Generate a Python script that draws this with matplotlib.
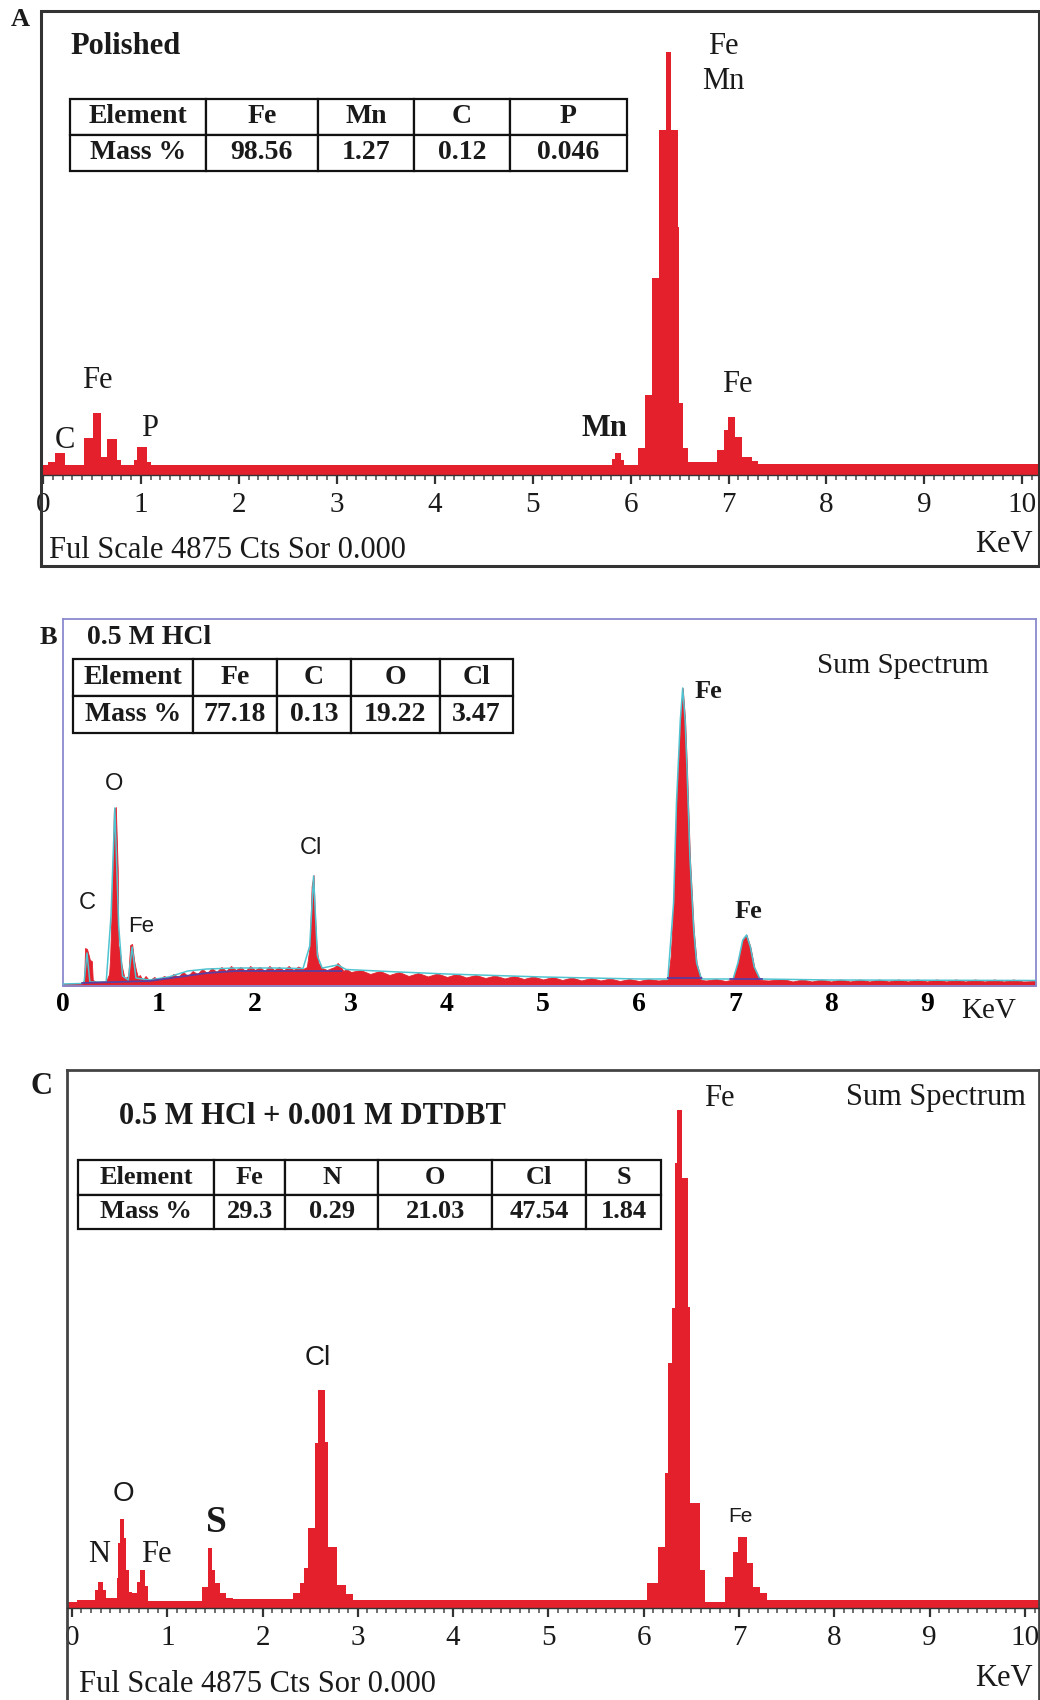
import numpy as np
import matplotlib
matplotlib.use('Agg')
import matplotlib.pyplot as plt
from matplotlib.patches import Rectangle

plt.rcParams['font.family'] = ['Liberation Serif', 'DejaVu Serif']

RED = '#E3202B'
INK = '#1a1a1a'
SERIF = 'Liberation Serif'
SANS = 'Liberation Sans'

# ---------------- Panel A : Polished ----------------
A_edges = [-0.02, 0.05, 0.12, 0.22, 0.42, 0.51, 0.59, 0.65, 0.76, 0.80, 0.93, 0.96,
           1.06, 1.10, 5.81, 5.84, 5.90, 5.93, 6.08, 6.15, 6.22, 6.29, 6.36, 6.41,
           6.48, 6.49, 6.54, 6.59, 6.88, 6.95, 6.99, 7.07, 7.14, 7.24, 7.30, 10.17]
A_counts = [100, 130, 220, 100, 370, 620, 180, 360, 150, 100, 150, 280, 130, 100,
            160, 220, 150, 100, 270, 800, 1970, 3450, 4230, 3450, 2480, 720, 270,
            130, 250, 450, 580, 380, 180, 140, 110]
A_elements = ['Element', 'Fe', 'Mn', 'C', 'P']
A_mass = ['Mass %', '98.56', '1.27', '0.12', '0.046']

# ---------------- Panel B : 0.5 M HCl ----------------
B_keV = [0.00, 0.15, 0.20, 0.22, 0.23, 0.25, 0.27, 0.28, 0.30, 0.31, 0.35, 0.40, 0.45,
         0.48, 0.49, 0.51, 0.53, 0.55, 0.57, 0.575, 0.59, 0.61, 0.64, 0.67, 0.68, 0.70,
         0.72, 0.74, 0.76, 0.78, 0.80, 0.83, 0.86, 0.90, 0.95, 1.00, 1.05, 1.10, 1.15,
         1.20, 1.25, 1.30, 1.35, 1.40, 1.45, 1.50, 1.55, 1.60, 1.65, 1.70, 1.75, 1.80,
         1.85, 1.90, 1.95, 2.00, 2.05, 2.10, 2.15, 2.20, 2.25, 2.30, 2.35, 2.40, 2.45,
         2.50, 2.54, 2.57, 2.59, 2.61, 2.62, 2.64, 2.66, 2.70, 2.75, 2.80, 2.83, 2.86,
         2.89, 2.92, 2.95, 3.00, 3.10, 3.20, 3.30, 3.40, 3.50, 3.60, 3.70, 3.80, 3.90,
         4.00, 4.10, 4.20, 4.30, 4.40, 4.50, 4.60, 4.70, 4.80, 4.90, 5.00, 5.10, 5.20,
         5.30, 5.40, 5.50, 5.60, 5.70, 5.80, 5.90, 6.00, 6.10, 6.20, 6.30, 6.33, 6.36,
         6.39, 6.43, 6.455, 6.48, 6.50, 6.53, 6.57, 6.60, 6.65, 6.70, 6.80, 6.90, 6.98,
         7.03, 7.08, 7.12, 7.16, 7.20, 7.26, 7.35, 7.50, 7.60, 7.70, 7.80, 7.90, 8.00,
         8.10, 8.20, 8.30, 8.40, 8.50, 8.60, 8.70, 8.80, 8.90, 9.00, 9.10, 9.20, 9.30,
         9.40, 9.50, 9.60, 9.70, 9.80, 9.90, 10.00, 10.13]
B_cnt = [20, 25, 30, 60, 380, 370, 300, 260, 250, 60, 40, 45, 50,
         120, 260, 860, 1760, 1790, 1160, 410, 360, 210, 80, 90, 110, 410,
         420, 260, 160, 90, 110, 60, 100, 55, 90, 60, 100, 80, 120,
         90, 140, 100, 150, 120, 170, 130, 180, 140, 190, 150, 200, 160,
         190, 150, 200, 160, 190, 150, 200, 160, 190, 155, 200, 160, 195,
         170, 190, 400, 1000, 1110, 800, 420, 230, 180, 160, 180, 190, 230,
         200, 150, 170, 140, 160, 120, 150, 110, 140, 100, 130, 95, 125,
         90, 120, 85, 110, 80, 105, 75, 100, 70, 95, 65, 90, 60,
         85, 55, 80, 55, 75, 50, 70, 50, 70, 55, 65, 300, 830,
         1830, 2660, 2980, 2660, 2160, 1290, 560, 230, 60, 55, 70, 50, 65,
         230, 460, 510, 390, 190, 60, 55, 70, 45, 65, 45, 65, 45,
         65, 45, 65, 45, 65, 45, 65, 45, 65, 45, 65, 45, 65,
         45, 65, 45, 65, 45, 65, 45, 50]
B_fit_keV = [0.0, 0.2, 0.22, 0.25, 0.28, 0.45, 0.50, 0.54, 0.58, 0.62, 0.68, 0.72, 0.76,
             0.9, 1.1, 1.3, 1.5, 1.8, 2.2, 2.5, 2.57, 2.61, 2.65, 2.7, 2.86, 2.95, 3.5,
             4.0, 5.0, 6.0, 6.3, 6.36, 6.39, 6.43, 6.455, 6.48, 6.50, 6.53, 6.57, 6.60,
             6.65, 6.98, 7.03, 7.08, 7.12, 7.16, 7.20, 7.26, 8.0, 10.13]
B_fit_cnt = [20, 25, 40, 330, 40, 40, 700, 1780, 600, 100, 60, 390, 80,
             60, 90, 150, 170, 180, 180, 175, 400, 1100, 300, 180, 210, 165, 140,
             120, 90, 70, 70, 830, 1830, 2660, 2980, 2660, 2160, 1290, 560, 230,
             70, 70, 230, 460, 510, 390, 190, 70, 60, 55]
B_bg_keV = [0.2, 0.9, 1.2, 1.5, 1.8, 2.5, 2.6, 2.9, np.nan, 6.3, 6.65, np.nan, 6.95, 7.28]
B_bg_cnt = [30, 50, 90, 130, 150, 150, 150, 150, np.nan, 80, 80, np.nan, 70, 70]
B_elements = ['Element', 'Fe', 'C', 'O', 'Cl']
B_mass = ['Mass %', '77.18', '0.13', '19.22', '3.47']

# ---------------- Panel C : 0.5 M HCl + 0.001 M DTDBT ----------------
C_edges = [-0.05, 0.05, 0.24, 0.27, 0.33, 0.36, 0.47, 0.48, 0.50, 0.55, 0.57, 0.60,
           0.63, 0.68, 0.71, 0.77, 0.80, 1.36, 1.43, 1.47, 1.50, 1.55, 1.62, 1.69,
           2.32, 2.39, 2.44, 2.48, 2.55, 2.58, 2.65, 2.69, 2.78, 2.88, 2.95, 6.03,
           6.15, 6.22, 6.25, 6.30, 6.33, 6.35, 6.40, 6.46, 6.48, 6.59, 6.64, 6.85,
           6.94, 6.99, 7.08, 7.15, 7.22, 7.29, 10.15]
C_counts = [60, 80, 180, 260, 180, 100, 300, 650, 890, 700, 380, 160, 150, 260, 380,
            220, 70, 210, 600, 380, 250, 150, 100, 90, 150, 250, 400, 800, 1650, 2180,
            1660, 610, 230, 140, 80, 250, 610, 1350, 2450, 3000, 4450, 4980, 4300,
            3010, 1050, 380, 60, 310, 560, 710, 450, 210, 150, 80]
C_elements = ['Element', 'Fe', 'N', 'O', 'Cl', 'S']
C_mass = ['Mass %', '29.3', '0.29', '21.03', '47.54', '1.84']

KEV_TICKS = list(range(0, 11))

W, H = 1040, 1700
fig = plt.figure(figsize=(W / 100, H / 100), dpi=100)


def box(x0, y0, x1, y1):
    return [x0 / W, 1 - y1 / H, (x1 - x0) / W, (y1 - y0) / H]


def draw_table(ax, header, row, bbox, colw, size):
    tb = ax.table(cellText=[header, row], cellLoc='center', bbox=bbox, colWidths=colw)
    tb.auto_set_font_size(False)
    for (r, c), cell in tb.get_celld().items():
        cell.set_linewidth(1.6)
        cell.set_edgecolor('#111111')
        cell.set_facecolor('white')
        t = cell.get_text()
        t.set_fontsize(size)
        t.set_fontweight('bold')
        t.set_fontfamily(SERIF)
        t.set_color(INK)
    tb.set_zorder(6)
    return tb


def keV_axis(ax, labelsize=21):
    ax.spines['bottom'].set_position(('data', 0))
    ax.spines['bottom'].set_color('#333333')
    ax.spines['bottom'].set_linewidth(1.0)
    ax.set_xticks(KEV_TICKS)
    ax.set_xticks(np.arange(0, 10.15, 0.1), minor=True)
    ax.tick_params(axis='x', which='major', direction='out', length=6.5, width=1.6,
                   pad=6, labelsize=labelsize, colors='#333333', labelcolor=INK)
    ax.tick_params(axis='x', which='minor', direction='out', length=3.8, width=1.2,
                   colors='#555555')
    ax.set_yticks([])


# ======== Panel A ========
axA = fig.add_axes(box(41, 11, 1039, 566))
axA.set_xlim(-0.02, 10.17)
axA.set_ylim(-910, 4640)
axA.stairs(A_counts, A_edges, fill=True, color=RED, baseline=0, zorder=2)
keV_axis(axA)
for s in ['left', 'top', 'right']:
    axA.spines[s].set_visible(False)
axA.add_patch(Rectangle((0, 0), 1, 1, transform=axA.transAxes, fill=False,
                        edgecolor='#333333', lw=2.2, clip_on=False, zorder=7))
draw_table(axA, A_elements, A_mass, [0.029, 0.712, 0.558, 0.130],
           [136, 112, 96, 96, 117], 20)
axA.text(0.28, 4285, 'Polished', fontsize=22, fontweight='bold', ha='left', va='center', color=INK)
axA.text(6.95, 4290, 'Fe', fontsize=22, ha='center', va='center', color=INK)
axA.text(6.95, 3940, 'Mn', fontsize=22, ha='center', va='center', color=INK)
axA.text(0.56, 950, 'Fe', fontsize=22, ha='center', va='center', color=INK)
axA.text(0.22, 340, 'C', fontsize=22, ha='center', va='center', color=INK)
axA.text(1.09, 460, 'P', fontsize=22, ha='center', va='center', color=INK)
axA.text(5.73, 460, 'Mn', fontsize=22, fontweight='bold', ha='center', va='center', color=INK)
axA.text(7.09, 910, 'Fe', fontsize=22, ha='center', va='center', color=INK)
axA.text(0.06, -760, 'Ful Scale 4875 Cts Sor 0.000', fontsize=22, ha='left', va='center', color=INK)
axA.text(9.81, -690, 'KeV', fontsize=22, ha='center', va='center', color=INK)
fig.text(20 / W, 1 - 20 / H, 'A', fontsize=19, fontweight='bold', ha='center', va='center', color=INK)

# ======== Panel B ========
axB = fig.add_axes(box(63, 619, 1036, 986))
axB.set_xlim(0, 10.135)
axB.set_ylim(0, 3670)
axB.fill_between(B_keV, 0, B_cnt, color=RED, lw=0.6, edgecolor=RED, zorder=2)
axB.plot(B_fit_keV, B_fit_cnt, color='#4fc3d0', lw=1.1, zorder=3)
axB.plot(B_bg_keV, B_bg_cnt, color='#5a3fa0', lw=1.3, zorder=3)
for s in axB.spines.values():
    s.set_color('#8a8ad0')
    s.set_linewidth(1.3)
axB.set_xticks(KEV_TICKS[:10])
axB.set_yticks([])
axB.tick_params(axis='x', length=0, pad=4, labelsize=20)
for lab in axB.get_xticklabels():
    lab.set_fontweight('bold')
draw_table(axB, B_elements, B_mass, [0.0103, 0.689, 0.452, 0.2016],
           [120, 84, 74, 89, 73], 20)
axB.text(0.25, 3480, '0.5 M HCl', fontsize=20, fontweight='bold', ha='left', va='center', color=INK)
axB.text(8.75, 3200, 'Sum Spectrum', fontsize=21, ha='center', va='center', color=INK)
axB.text(6.72, 2940, 'Fe', fontsize=19, fontweight='bold', ha='center', va='center', color=INK)
axB.text(7.14, 740, 'Fe', fontsize=19, fontweight='bold', ha='center', va='center', color=INK)
axB.text(0.53, 2020, 'O', fontsize=17, family=SANS, ha='center', va='center', color=INK)
axB.text(0.25, 830, 'C', fontsize=17, family=SANS, ha='center', va='center', color=INK)
axB.text(0.81, 590, 'Fe', fontsize=16, family=SANS, ha='center', va='center', color=INK)
axB.text(2.58, 1380, 'Cl', fontsize=17, family=SANS, ha='center', va='center', color=INK)
axB.text(9.64, -250, 'KeV', fontsize=21, ha='center', va='center', color=INK, clip_on=False)
fig.text(48 / W, 1 - 638 / H, 'B', fontsize=19, fontweight='bold', ha='center', va='center', color=INK)

# ======== Panel C ========
axC = fig.add_axes(box(67, 1070, 1039, 1700))
axC.set_xlim(-0.052, 10.147)
axC.set_ylim(-920, 5380)
axC.stairs(C_counts, C_edges, fill=True, color=RED, baseline=0, zorder=2)
keV_axis(axC)
for s in ['left', 'top', 'right']:
    axC.spines[s].set_color('#444444')
    axC.spines[s].set_linewidth(2.0)
draw_table(axC, C_elements, C_mass, [0.0113, 0.7476, 0.600, 0.1095],
           [136, 71, 93, 114, 94, 75], 19)
axC.text(0.49, 4910, '0.5 M HCl + 0.001 M DTDBT', fontsize=22, fontweight='bold',
         ha='left', va='center', color=INK)
axC.text(9.07, 5110, 'Sum Spectrum', fontsize=22, ha='center', va='center', color=INK)
axC.text(6.79, 5090, 'Fe', fontsize=22, ha='center', va='center', color=INK)
axC.text(2.58, 2500, 'Cl', fontsize=20, family=SANS, ha='center', va='center', color=INK)
axC.text(0.54, 1140, 'O', fontsize=20, family=SANS, ha='center', va='center', color=INK)
axC.text(1.52, 860, 'S', fontsize=27, fontweight='bold', ha='center', va='center', color=INK)
axC.text(0.29, 540, 'N', fontsize=22, ha='center', va='center', color=INK)
axC.text(0.89, 540, 'Fe', fontsize=22, ha='center', va='center', color=INK)
axC.text(7.01, 920, 'Fe', fontsize=15, family=SANS, ha='center', va='center', color=INK)
axC.text(0.07, -760, 'Ful Scale 4875 Cts Sor 0.000', fontsize=22, ha='left', va='center', color=INK)
axC.text(9.78, -710, 'KeV', fontsize=22, ha='center', va='center', color=INK)
fig.text(41 / W, 1 - 1087 / H, 'C', fontsize=22, fontweight='bold', ha='center', va='center', color=INK)

fig.savefig('out.png', dpi=100, facecolor='white')
